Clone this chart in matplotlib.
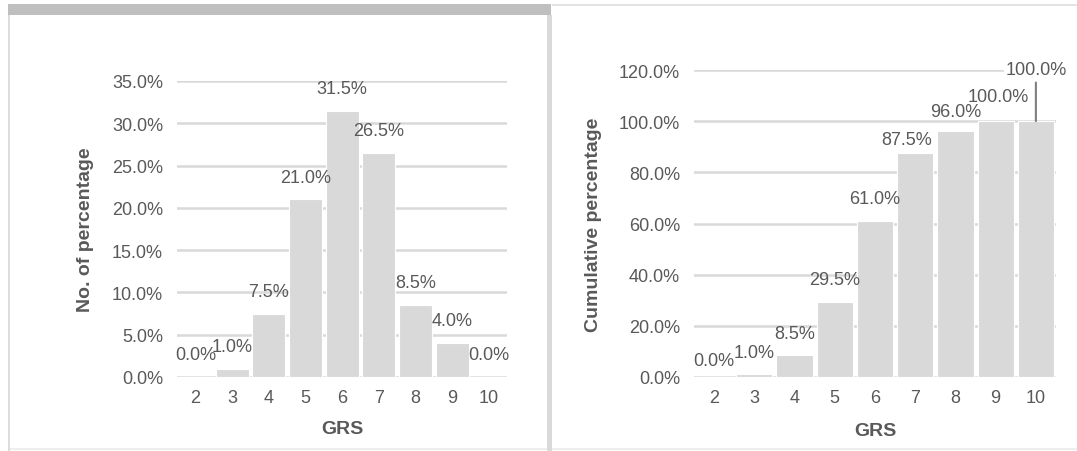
import numpy as np
import matplotlib
matplotlib.use('Agg')
from matplotlib import pyplot as plt
from matplotlib.patches import Rectangle

plt.rcParams['font.family'] = ['Liberation Sans', 'DejaVu Sans']

grs = ['2', '3', '4', '5', '6', '7', '8', '9', '10']
pct = [0.0, 1.0, 7.5, 21.0, 31.5, 26.5, 8.5, 4.0, 0.0]
cum_pct = [0.0, 1.0, 8.5, 29.5, 61.0, 87.5, 96.0, 100.0, 100.0]

# label offsets (points) for the cumulative chart, nudged like the original
cum_off = [(0, 12), (0, 16), (0, 16), (0, 16), (0, 16), (-6, 10), (0, 14), (2, 18), (0, 37)]

W, H = 1077, 452
txt = '#595959'
bar_c = '#d9d9d9'
grid_c = '#d9d9d9'
fs = 13

fig = plt.figure(figsize=(W / 100, H / 100), dpi=100)

def px(x0, y0, x1, y1):
    # pixel box (top-left origin) -> figure fraction [l, b, w, h]
    return [x0 / W, 1 - y1 / H, (x1 - x0) / W, (y1 - y0) / H]

def style(ax, top, step, ylab, lab_x):
    x = np.arange(len(grs))
    ax.set_xlim(-0.5, len(grs) - 0.5)
    ax.set_ylim(0, top)
    ax.set_xticks(x)
    ax.set_xticklabels(grs)
    ticks = np.arange(0, top + step / 2, step)
    ax.set_yticks(ticks)
    ax.set_yticklabels([f'{t:.1f}%' for t in ticks])
    for s in ax.spines.values():
        s.set_visible(False)
    ax.tick_params(length=0, labelsize=fs, colors=txt)
    ax.tick_params(axis='x', pad=9)
    ax.tick_params(axis='y', pad=10)
    ax.yaxis.grid(True, color=grid_c, lw=1.8)
    ax.set_axisbelow(True)
    ax.set_xlabel('GRS', fontsize=14, fontweight='bold', color=txt)
    ax.set_ylabel(ylab, fontsize=14, fontweight='bold', color=txt)
    ax.yaxis.set_label_coords(lab_x, 0.5)

# left chart
ax1 = fig.add_axes(px(177, 82, 507, 378))
x = np.arange(len(grs))
ax1.bar(x, pct, width=0.9, color=bar_c, edgecolor='white', lw=0.8)
style(ax1, 35, 5, 'No. of percentage', -0.25)
ax1.xaxis.set_label_coords(0.5, -43 / 296)
for i, v in enumerate(pct):
    ax1.annotate(f'{v:.1f}%', (x[i], v), xytext=(0, 16), textcoords='offset points',
                 ha='center', va='center', fontsize=fs, color=txt)

# right chart
ax2 = fig.add_axes(px(694, 71, 1056, 378))
ax2.bar(x, cum_pct, width=0.9, color=bar_c, edgecolor='white', lw=0.8)
style(ax2, 120, 20, 'Cumulative percentage', -0.255)
ax2.xaxis.set_label_coords(0.5, -45 / 307)
for i, v in enumerate(cum_pct):
    dx, dy = cum_off[i]
    if i == len(cum_pct) - 1:
        ax2.annotate(f'{v:.1f}%', (x[i], v), xytext=(dx, dy), textcoords='offset points',
                     ha='center', va='center', fontsize=fs, color=txt,
                     bbox=dict(fc='white', ec='none', pad=1),
                     arrowprops=dict(arrowstyle='-', color='#7f7f7f', lw=1.5,
                                     shrinkA=2, shrinkB=0))
    else:
        ax2.annotate(f'{v:.1f}%', (x[i], v), xytext=(dx, dy), textcoords='offset points',
                     ha='center', va='center', fontsize=fs, color=txt)

# panel frames
def rect(x0, y0, x1, y1, c):
    fig.add_artist(Rectangle((x0 / W, 1 - y1 / H), (x1 - x0) / W, (y1 - y0) / H,
                             transform=fig.transFigure, color=c, lw=0, zorder=0))

rect(8, 5, 551, 16, '#bfbfbf')
rect(8, 16, 10, 452, '#dcdcdc')
rect(547, 16, 552, 452, '#d9d9d9')
rect(552, 5, 1077, 7, '#e3e3e3')
rect(10, 449, 547, 451, '#eeeeee')
rect(552, 449, 1077, 451, '#eeeeee')

fig.savefig('out.png', dpi=100)
